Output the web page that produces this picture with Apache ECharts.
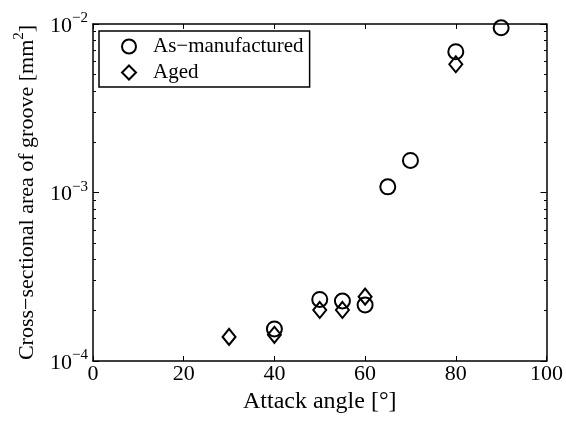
<!DOCTYPE html>
<html><head><meta charset="utf-8">
<script src="https://cdn.jsdelivr.net/npm/echarts@6/dist/echarts.min.js"></script>
<style>html,body{margin:0;padding:0;background:#fff}#c{width:566px;height:421px}</style>
</head><body><div id="c"></div>
<script>
// Data
const asManufacturedX = [40, 50, 55, 60, 65, 70, 80, 90];
const asManufacturedY = [1.55e-4, 2.32e-4, 2.27e-4, 2.15e-4, 1.08e-3, 1.55e-3, 6.85e-3, 9.5e-3];
const agedX = [30, 40, 50, 55, 60, 80];
const agedY = [1.39e-4, 1.43e-4, 2.01e-4, 2.01e-4, 2.41e-4, 5.77e-3];
const xTicks = [0, 20, 40, 60, 80, 100];
const yMajorExp = [-4, -3, -2];
const minorMult = [2, 3, 4, 5, 6, 7, 8, 9];

const FONT = 'Liberation Serif';
const minorLogs = [];
for (const e of [-4, -3]) for (const m of minorMult) minorLogs.push(e + Math.log10(m));

const axisLineStyle = { color: '#000', width: 1.5 };
const chart = echarts.init(document.getElementById('c'), null, { renderer: 'canvas' });
const gridPos = { left: 93, right: 19, top: 24, bottom: 60 };

const yLabel = v => {
  const e = Math.round(Math.log10(v));
  return '{b|10}{s|' + (e < 0 ? '\u2212' + (-e) : e) + '}';
};
const richLab = {
  b: { fontFamily: FONT, fontSize: 22, color: '#000', lineHeight: 26, verticalAlign: 'bottom' },
  s: { fontFamily: FONT, fontSize: 15, color: '#000', lineHeight: 26, verticalAlign: 'top', padding: [0, 0, 10, 0] }
};
const minorAxis = pos => ({
  type: 'value', min: -4, max: -2, position: pos, gridIndex: 1,
  axisLine: { show: false },
  axisTick: { show: true, inside: true, length: 3, lineStyle: { color: '#000', width: 1 }, customValues: minorLogs },
  axisLabel: { show: false }, splitLine: { show: false }
});
const markStyle = { color: 'transparent', borderColor: '#000', borderWidth: 2, opacity: 1 };

chart.setOption({
  animation: false,
  backgroundColor: '#fff',
  grid: [Object.assign({}, gridPos), Object.assign({}, gridPos)],
  legend: {
    orient: 'vertical', left: 99, top: 31,
    borderColor: '#000', borderWidth: 1.5, borderRadius: 0,
    padding: [5, 6, 4, 22], itemGap: 5,
    itemWidth: 14, itemHeight: 14,
    textStyle: { fontFamily: FONT, fontSize: 21, color: '#000', padding: [0, 0, 0, 12] },
    data: [
      { name: 'As\u2212manufactured', icon: 'circle', itemStyle: markStyle },
      { name: 'Aged', icon: 'diamond', itemStyle: markStyle }
    ]
  },
  xAxis: [
    {
      type: 'value', min: 0, max: 100, interval: 20, position: 'bottom',
      name: 'Attack angle [\u00b0]', nameLocation: 'middle', nameGap: 28,
      nameTextStyle: { fontFamily: FONT, fontSize: 24, color: '#000' },
      axisLine: { show: true, onZero: false, lineStyle: axisLineStyle },
      axisTick: { show: true, inside: true, length: 5, lineStyle: { color: '#000', width: 1 }, customValues: xTicks },
      axisLabel: { fontFamily: FONT, fontSize: 22, color: '#000', margin: 2, customValues: xTicks },
      splitLine: { show: false }
    },
    {
      type: 'value', min: 0, max: 100, interval: 20, position: 'top',
      axisLine: { show: true, onZero: false, lineStyle: axisLineStyle },
      axisTick: { show: true, inside: true, length: 5, lineStyle: { color: '#000', width: 1 } },
      axisLabel: { show: false }, splitLine: { show: false }
    },
    {
      type: 'value', min: 0, max: 100, gridIndex: 1, show: false
    }
  ],
  yAxis: [
    {
      type: 'log', logBase: 10, min: 1e-4, max: 1e-2, position: 'left',
      name: '{a|Cross\u2212sectional area of groove [mm}{s|2}{a|]}',
      nameLocation: 'middle', nameGap: 55, nameRotate: 90,
      nameTextStyle: { rich: {
        a: { fontFamily: FONT, fontSize: 22, color: '#000', lineHeight: 26, verticalAlign: 'bottom' },
        s: { fontFamily: FONT, fontSize: 15, color: '#000', lineHeight: 26, verticalAlign: 'top', padding: [0, 0, 10, 0] }
      } },
      axisLine: { show: true, onZero: false, lineStyle: axisLineStyle },
      axisTick: { show: true, inside: true, length: 6, lineStyle: { color: '#000', width: 1 } },
      axisLabel: { formatter: yLabel, rich: richLab, margin: 5 },
      splitLine: { show: false }
    },
    {
      type: 'log', logBase: 10, min: 1e-4, max: 1e-2, position: 'right',
      axisLine: { show: true, onZero: false, lineStyle: axisLineStyle },
      axisTick: { show: true, inside: true, length: 6, lineStyle: { color: '#000', width: 1 } },
      axisLabel: { show: false }, splitLine: { show: false }
    },
    minorAxis('left'),
    minorAxis('right')
  ],
  series: [
    {
      name: 'As\u2212manufactured', type: 'scatter', xAxisIndex: 0, yAxisIndex: 0,
      symbol: 'circle', symbolSize: 15,
      itemStyle: markStyle,
      data: asManufacturedX.map((x, i) => [x, asManufacturedY[i]]), z: 3
    },
    {
      name: 'Aged', type: 'scatter', xAxisIndex: 0, yAxisIndex: 0,
      symbol: 'diamond', symbolSize: [13, 16],
      itemStyle: markStyle,
      data: agedX.map((x, i) => [x, agedY[i]]), z: 4
    }
  ]
});
</script>
</body></html>
